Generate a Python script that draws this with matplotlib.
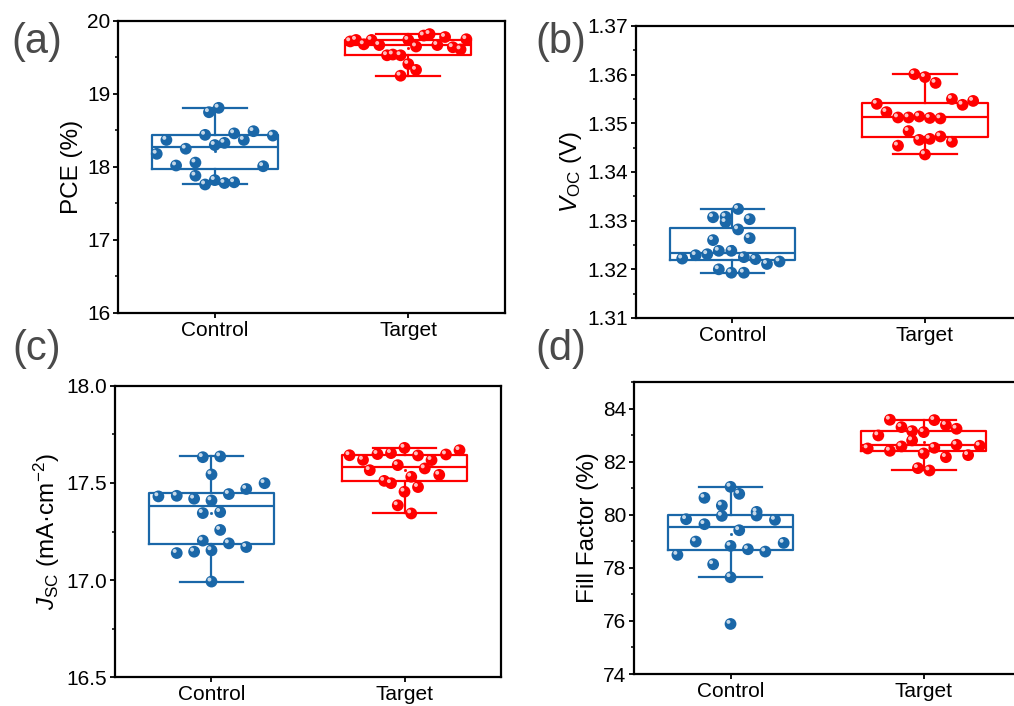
import numpy as np
import matplotlib
matplotlib.use("Agg")
import matplotlib.pyplot as plt
from matplotlib.ticker import MultipleLocator, FormatStrFormatter
from matplotlib.transforms import ScaledTranslation

plt.rcParams['font.family'] = ['Liberation Sans', 'DejaVu Sans']
plt.rcParams['mathtext.fontset'] = 'custom'
plt.rcParams['mathtext.rm'] = 'Liberation Sans'
plt.rcParams['mathtext.it'] = 'Liberation Sans:italic'

groups = ['Control', 'Target']

# PCE (%)
pce_ctrl = [18.81, 18.75, 18.44, 18.46, 18.49, 18.43, 18.37, 18.37, 18.30, 18.33,
            18.25, 18.18, 18.02, 18.06, 18.01, 17.88, 17.82, 17.76, 17.78, 17.79]
pce_ctrl_dx = [0.02, -0.03, -0.05, 0.10, 0.20, 0.30, -0.25, 0.15, 0.0, 0.05,
               -0.15, -0.30, -0.20, -0.10, 0.25, -0.10, 0.0, -0.05, 0.05, 0.10]
pce_targ = [19.72, 19.74, 19.68, 19.74, 19.67, 19.53, 19.54, 19.53, 19.74, 19.41,
            19.65, 19.33, 19.25, 19.80, 19.82, 19.67, 19.78, 19.64, 19.61, 19.75]
pce_targ_dx = [-0.30, -0.27, -0.23, -0.19, -0.15, -0.11, -0.08, -0.04, 0.0, 0.0,
               0.04, 0.04, -0.04, 0.08, 0.11, 0.15, 0.19, 0.23, 0.27, 0.30]

# Voc (V)
voc_ctrl = [1.3324, 1.3307, 1.3308, 1.3297, 1.3303, 1.3282, 1.3260, 1.3264, 1.3222, 1.3229,
            1.3231, 1.3238, 1.3238, 1.3225, 1.3221, 1.3211, 1.3216, 1.3200, 1.3193, 1.3193]
voc_ctrl_dx = [0.03, -0.10, -0.035, -0.035, 0.09, 0.03, -0.10, 0.09, -0.26, -0.19,
               -0.13, -0.07, -0.005, 0.06, 0.12, 0.18, 0.245, -0.07, -0.005, 0.06]
voc_targ = [1.3540, 1.3523, 1.3512, 1.3512, 1.3514, 1.3511, 1.3510, 1.3601, 1.3595, 1.3583,
            1.3550, 1.3538, 1.3546, 1.3484, 1.3454, 1.3466, 1.3468, 1.3473, 1.3462, 1.3436]
voc_targ_dx = [-0.25, -0.20, -0.14, -0.085, -0.03, 0.025, 0.08, -0.055, 0.0, 0.055,
               0.14, 0.195, 0.25, -0.085, -0.14, -0.03, 0.025, 0.08, 0.14, 0.0]

# Jsc (mA cm-2)
jsc_ctrl = [17.633, 17.637, 17.544, 17.499, 17.469, 17.443, 17.431, 17.434, 17.419, 17.410,
            17.345, 17.350, 17.258, 17.203, 17.189, 17.170, 17.139, 17.146, 17.153, 16.992]
jsc_ctrl_dx = [-0.045, 0.045, 0.0, 0.275, 0.18, 0.09, -0.275, -0.18, -0.09, 0.0,
               -0.045, 0.045, 0.045, -0.045, 0.09, 0.18, -0.18, -0.09, 0.0, 0.0]
jsc_targ = [17.643, 17.619, 17.649, 17.654, 17.681, 17.642, 17.618, 17.647, 17.669, 17.566,
            17.592, 17.575, 17.511, 17.499, 17.532, 17.542, 17.479, 17.455, 17.385, 17.343]
jsc_targ_dx = [-0.285, -0.215, -0.14, -0.07, 0.0, 0.07, 0.14, 0.215, 0.285, -0.18,
               -0.035, 0.105, -0.105, -0.07, 0.035, 0.18, 0.07, 0.0, -0.035, 0.035]

# Fill factor (%)
ff_ctrl = [81.057, 80.792, 80.642, 80.352, 80.113, 79.975, 79.962, 79.836, 79.811, 79.648,
           79.421, 78.994, 78.943, 78.830, 78.704, 78.616, 78.491, 78.138, 77.648, 75.887]
ff_ctrl_dx = [0.0, 0.045, -0.135, -0.045, 0.135, 0.135, -0.045, -0.23, 0.23, -0.135,
              0.045, -0.18, 0.275, 0.0, 0.09, 0.18, -0.275, -0.09, 0.0, 0.0]
ff_targ = [83.585, 83.572, 83.308, 83.157, 83.119, 83.384, 83.245, 82.994, 82.805, 82.503,
           82.415, 82.579, 82.528, 82.642, 82.604, 82.314, 82.176, 82.252, 81.761, 81.673]
ff_targ_dx = [-0.175, 0.055, -0.115, -0.06, 0.0, 0.115, 0.17, -0.235, -0.06, -0.29,
              -0.175, -0.115, 0.055, 0.17, 0.29, 0.0, 0.115, 0.23, -0.03, 0.03]

BLUE = '#1a67a8'
RED = '#ff0000'
colors = [BLUE, RED]

fig = plt.figure(figsize=(10.14, 7.06), dpi=100)


def draw_panel(ax, data, offsets, ylim, major, minor, fmt, ylabel):
    positions = [1, 2]
    for pos, vals, dx, col in zip(positions, data, offsets, colors):
        line = dict(color=col, linewidth=1.6)
        ax.boxplot([vals], positions=[pos], widths=0.65, whis=1.5,
                   showfliers=False, showmeans=True, capwidths=[0.33],
                   boxprops=line, whiskerprops=line, capprops=line,
                   medianprops=line,
                   meanprops=dict(marker='s', markersize=1.0,
                                  markerfacecolor=col, markeredgecolor=col))
        xs = pos + np.asarray(dx)
        ax.scatter(xs, vals, s=72, color=col, edgecolors='none', zorder=5)
        # small highlight to give the markers a glossy look
        shift = ax.transData + ScaledTranslation(-1.5 / 72, 1.5 / 72, fig.dpi_scale_trans)
        ax.scatter(xs, vals, s=8, color='white', alpha=0.75, edgecolors='none',
                   zorder=6, transform=shift)

    ax.set_xlim(0.5, 2.5)
    ax.set_ylim(*ylim)
    ax.set_xticks(positions)
    ax.set_xticklabels(groups)
    ax.yaxis.set_major_locator(MultipleLocator(major))
    ax.yaxis.set_minor_locator(MultipleLocator(minor))
    ax.yaxis.set_major_formatter(FormatStrFormatter(fmt))
    ax.tick_params(axis='both', which='major', direction='out', length=3.5,
                   width=1.3, labelsize=15, pad=2)
    ax.tick_params(axis='y', which='minor', direction='out', length=2.5, width=1.1)
    ax.tick_params(axis='x', which='minor', bottom=False)
    ax.set_ylabel(ylabel, fontsize=17.5, labelpad=3)
    for sp in ax.spines.values():
        sp.set_linewidth(1.6)


ax_a = fig.add_axes([0.1164, 0.5567, 0.3817, 0.4136])
draw_panel(ax_a, [pce_ctrl, pce_targ], [pce_ctrl_dx, pce_targ_dx],
           (16, 20), 1, 0.5, '%d', 'PCE (%)')

ax_b = fig.add_axes([0.6272, 0.5496, 0.3800, 0.4136])
draw_panel(ax_b, [voc_ctrl, voc_targ], [voc_ctrl_dx, voc_targ_dx],
           (1.31, 1.37), 0.01, 0.005, '%.2f', r'$V_{\mathrm{OC}}$ (V)')

ax_c = fig.add_axes([0.1134, 0.0410, 0.3807, 0.4123])
draw_panel(ax_c, [jsc_ctrl, jsc_targ], [jsc_ctrl_dx, jsc_targ_dx],
           (16.5, 18.0), 0.5, 0.25, '%.1f', r'$J_{\mathrm{SC}}$ (mA·cm$^{-2}$)')

ax_d = fig.add_axes([0.6252, 0.0453, 0.3810, 0.4133])
draw_panel(ax_d, [ff_ctrl, ff_targ], [ff_ctrl_dx, ff_targ_dx],
           (74, 85), 2, 1, '%d', 'Fill Factor (%)')

# panel letters
for txt, x, y in [('(a)', 0.036, 0.940), ('(b)', 0.553, 0.940),
                  ('(c)', 0.036, 0.505), ('(d)', 0.553, 0.505)]:
    fig.text(x, y, txt, fontsize=30, color='#4a4a4a', ha='center', va='center')

fig.savefig('out.png', dpi=100, facecolor='white')
